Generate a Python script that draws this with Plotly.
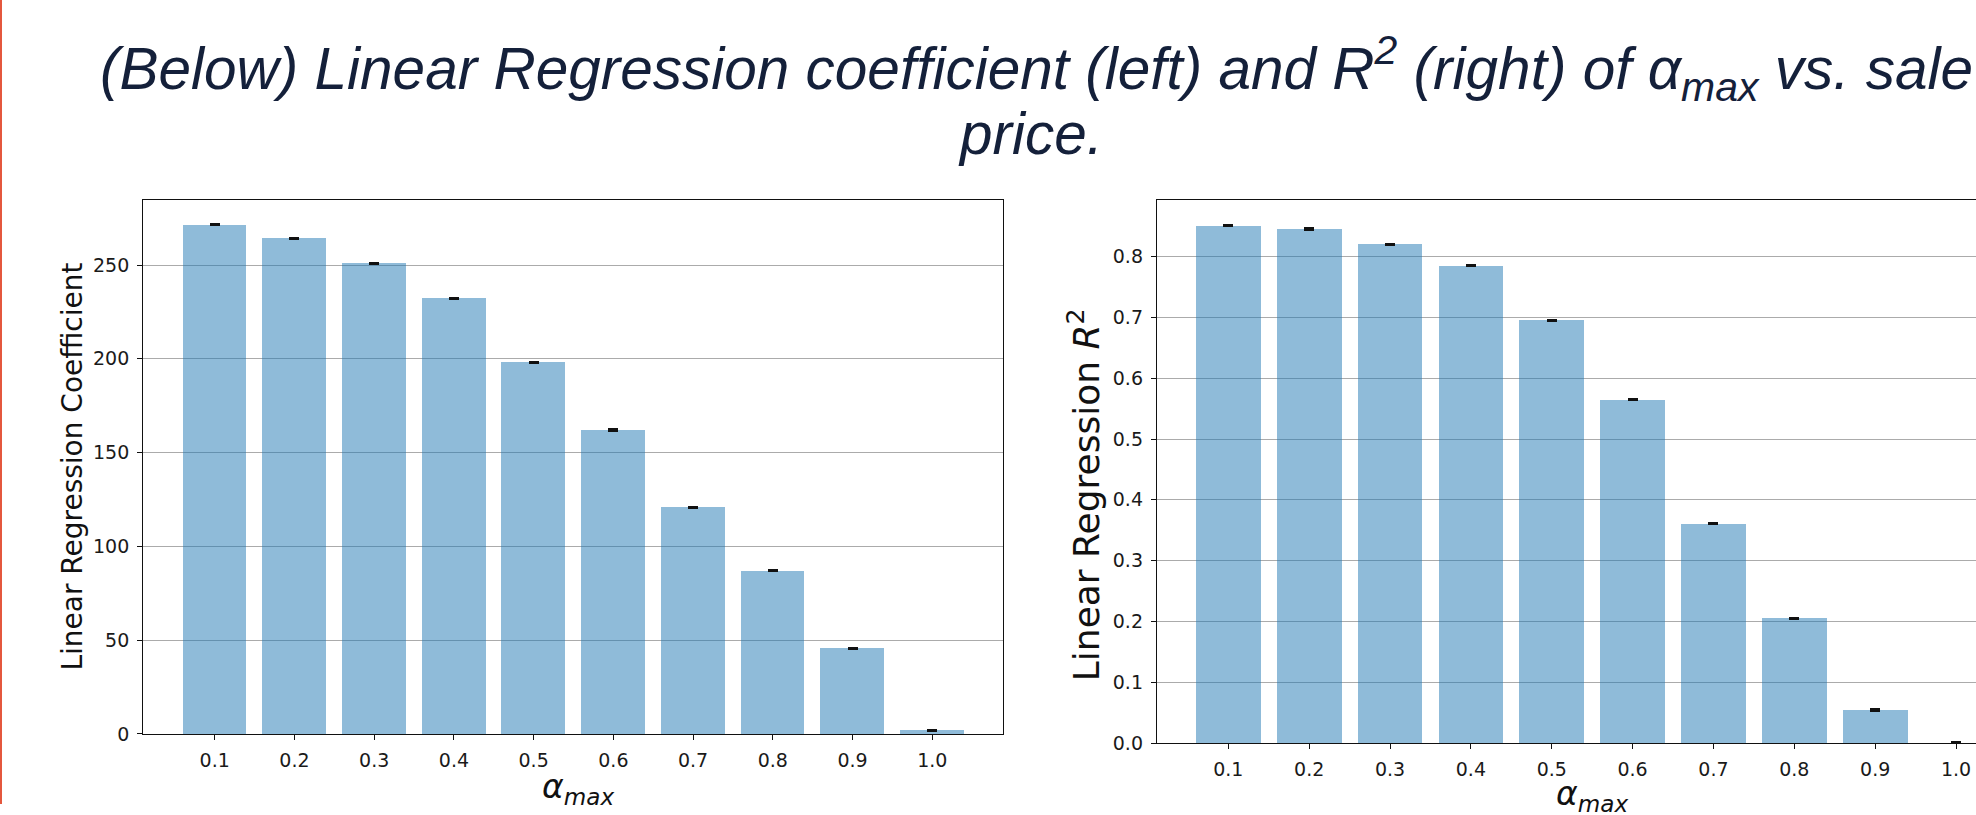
import plotly.graph_objects as go

W, H = 1976, 815

# ---- data ----
alpha_max = [0.1, 0.2, 0.3, 0.4, 0.5, 0.6, 0.7, 0.8, 0.9, 1.0]
alpha_labels = ["0.1", "0.2", "0.3", "0.4", "0.5", "0.6", "0.7", "0.8", "0.9", "1.0"]
coef_values = [271.6, 264.2, 250.9, 232.2, 198.2, 162.1, 120.8, 87.0, 45.6, 2.0]
coef_err = [0.35, 0.35, 0.35, 0.35, 0.35, 0.35, 0.35, 0.35, 0.35, 0.35]
r2_values = [0.851, 0.845, 0.820, 0.785, 0.695, 0.565, 0.361, 0.205, 0.0545, 0.0008]
r2_err = [0.0012, 0.0012, 0.0012, 0.0012, 0.0012, 0.0012, 0.0012, 0.0012, 0.0012, 0.0008]
coef_ticks = [0, 50, 100, 150, 200, 250]
coef_tick_labels = ["0", "50", "100", "150", "200", "250"]
r2_ticks = [0.0, 0.1, 0.2, 0.3, 0.4, 0.5, 0.6, 0.7, 0.8]
r2_tick_labels = ["0.0", "0.1", "0.2", "0.3", "0.4", "0.5", "0.6", "0.7", "0.8"]


def px(x):
    return x / W


def py(y):
    return 1 - y / H


BAR = "rgba(31,119,180,0.5)"
TICKFONT = dict(family="DejaVu Sans", size=19, color="#1a1a1a")

fig = go.Figure()
fig.add_trace(go.Bar(
    x=alpha_max, y=coef_values, width=0.08, marker=dict(color=BAR, line=dict(width=0)),
    error_y=dict(type="data", array=coef_err, color="#111111", thickness=2, width=5),
    xaxis="x", yaxis="y", showlegend=False, hoverinfo="skip"))
fig.add_trace(go.Bar(
    x=alpha_max, y=r2_values, width=0.08, marker=dict(color=BAR, line=dict(width=0)),
    error_y=dict(type="data", array=r2_err, color="#111111", thickness=2, width=5),
    xaxis="x2", yaxis="y2", showlegend=False, hoverinfo="skip"))

common_x = dict(tickvals=alpha_max, ticktext=alpha_labels, showgrid=False, zeroline=False,
                showline=True, linecolor="#111111", linewidth=1.4, ticks="outside",
                ticklen=5, tickwidth=1.3, tickcolor="#111111", tickfont=TICKFONT,
                ticklabelstandoff=4)
common_y = dict(showgrid=True, gridcolor="#ababab", gridwidth=1.2, zeroline=False,
                showline=True, linecolor="#111111", linewidth=1.4, ticks="outside",
                ticklen=5, tickwidth=1.3, tickcolor="#111111", tickfont=TICKFONT,
                ticklabelstandoff=4)

fig.update_layout(
    width=W, height=H, margin=dict(l=0, r=0, t=0, b=0),
    paper_bgcolor="white", plot_bgcolor="white", bargap=0,
    xaxis=dict(domain=[px(143.3), px(1003.3)], range=[0.0104, 1.0891], anchor="y",
               mirror=True, **common_x),
    yaxis=dict(domain=[py(744), py(202.7)], range=[0, 284.7], anchor="x", mirror=True,
               tickvals=coef_ticks, ticktext=coef_tick_labels, **common_y),
    xaxis2=dict(domain=[px(1157), 1.0], range=[0.0118, 1.0247], anchor="y2",
                mirror=True, **common_x),
    yaxis2=dict(domain=[py(753.3), py(202.7)], range=[0, 0.893], anchor="x2",
                tickvals=r2_ticks, ticktext=r2_tick_labels, **common_y),
)

ann = []
TITLE_FONT = dict(family="Liberation Sans", size=58.5, color="#14203a")
ann.append(dict(x=px(1036), y=py(69), xref="paper", yref="paper", xanchor="center",
                yanchor="middle", showarrow=False, font=TITLE_FONT,
                text="<i>(Below) Linear Regression coefficient (left) and R<sup>2</sup> (right) of α<sub>max</sub> vs. sale</i>"))
ann.append(dict(x=px(1030), y=py(135), xref="paper", yref="paper", xanchor="center",
                yanchor="middle", showarrow=False, font=TITLE_FONT,
                text="<i>price.</i>"))
# axis titles
LAB = dict(family="DejaVu Sans", size=28, color="#111111")
ALAB = dict(family="DejaVu Sans", size=33, color="#111111")
ann.append(dict(x=px(73), y=py(473), xref="paper", yref="paper", xanchor="center",
                yanchor="middle", showarrow=False, textangle=-90, font=LAB,
                text="Linear Regression Coefficient"))
ann.append(dict(x=px(1084), y=py(502), xref="paper", yref="paper", xanchor="center",
                yanchor="middle", showarrow=False, textangle=-90,
                font=dict(family="DejaVu Sans", size=36, color="#111111"),
                text="Linear Regression <i>R</i><sup>2</sup>"))
ann.append(dict(x=px(578), y=py(799), xref="paper", yref="paper", xanchor="center",
                yanchor="middle", showarrow=False, font=ALAB,
                text="<i>α</i><sub><i>max</i></sub>"))
ann.append(dict(x=px(1592), y=py(806), xref="paper", yref="paper", xanchor="center",
                yanchor="middle", showarrow=False, font=ALAB,
                text="<i>α</i><sub><i>max</i></sub>"))
fig.update_layout(annotations=ann)

# red accent line on the left edge of the slide
fig.add_shape(type="line", xref="paper", yref="paper", x0=px(1), x1=px(1), y0=0, y1=1,
              line=dict(color="#e4573d", width=2))

fig.write_html("out.html", config={"displayModeBar": False})
